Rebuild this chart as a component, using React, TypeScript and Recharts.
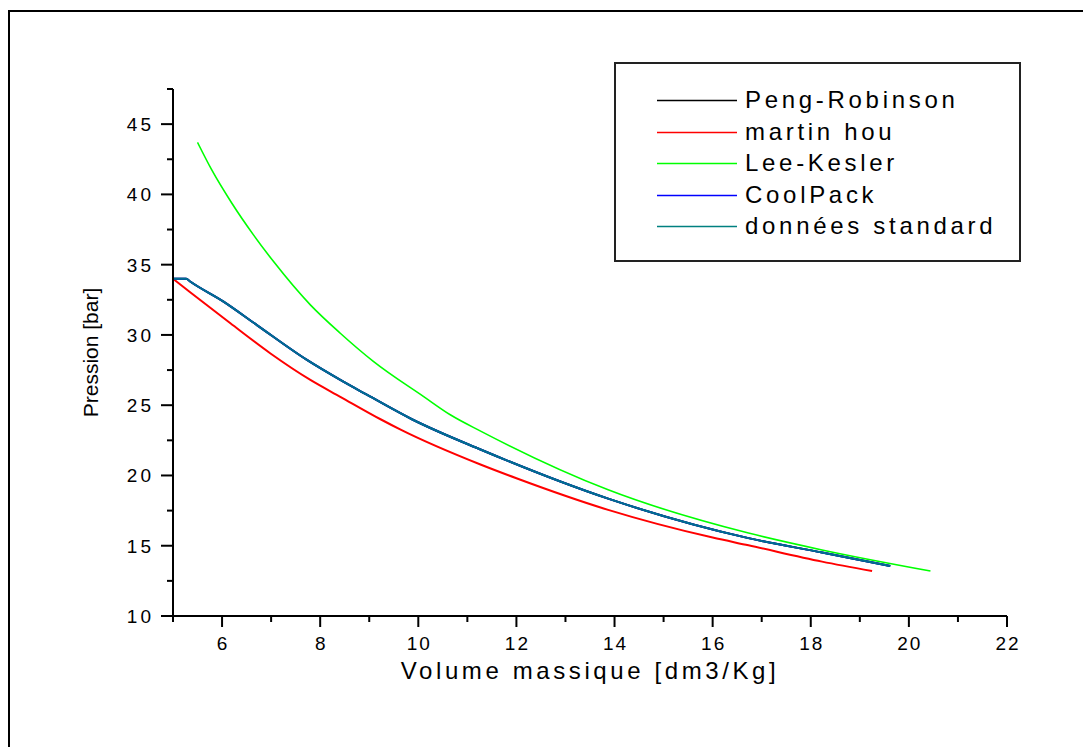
import * as React from 'react';
import { LineChart, Line, XAxis, YAxis, Legend } from 'recharts';

type Pt = { v: number; p: number };

// volume massique [dm3/Kg] / pression [bar]
const MARTIN_HOU_V = [5.0, 5.35, 6.17, 6.98, 7.8, 8.41, 9.23, 9.64, 11.28, 12.0, 13.87, 16.0, 16.73, 18.23, 19.25];
const MARTIN_HOU_P = [34.0, 33.04, 30.83, 28.7, 26.8, 25.6, 24.0, 23.26, 20.76, 19.8, 17.55, 15.58, 15.03, 13.87, 13.2];

const LEE_KESLER_V = [5.5, 5.79, 6.2, 6.64, 7.05, 7.8, 8.41, 9.09, 10.11, 10.66, 11.28, 13.87, 16.73, 18.23, 20.44];
const LEE_KESLER_P = [43.7, 41.74, 39.37, 37.12, 35.22, 32.14, 30.12, 28.1, 25.61, 24.3, 23.14, 18.98, 15.9, 14.7, 13.2];

// Peng-Robinson, CoolPack et données standard se superposent
const STANDARD_V = [5.0, 5.27, 5.35, 6.03, 6.71, 7.73, 8.41, 8.96, 9.87, 11.28, 13.87, 16.73, 18.23, 19.62];
const STANDARD_P = [34.0, 34.0, 33.8, 32.37, 30.7, 28.22, 26.8, 25.73, 24.0, 21.83, 18.35, 15.54, 14.52, 13.56];

const SERIES_NAMES = ['Peng-Robinson', 'martin hou', 'Lee-Kesler', 'CoolPack', 'données standard'];
const SERIES_COLORS = ['#000000', '#ff0000', '#00ff00', '#0000ff', '#008080'];

const X_TICKS = [5, 6, 7, 8, 9, 10, 11, 12, 13, 14, 15, 16, 17, 18, 19, 20, 21, 22];
const Y_TICKS = [10, 12.5, 15, 17.5, 20, 22.5, 25, 27.5, 30, 32.5, 35, 37.5, 40, 42.5, 45, 47.5];

const FONT = '"Liberation Sans", Arial, sans-serif';

const zip = (v: number[], p: number[]): Pt[] => v.map((x, i) => ({ v: x, p: p[i] }));

const martinHou = zip(MARTIN_HOU_V, MARTIN_HOU_P);
const leeKesler = zip(LEE_KESLER_V, LEE_KESLER_P);
const standard = zip(STANDARD_V, STANDARD_P);

function VolumeTick({ x, y, payload }: any) {
  const major = payload.value % 2 === 0;
  return (
    <g>
      <line x1={x} y1={y} x2={x} y2={y + (major ? 11 : 6)} stroke="#000" strokeWidth={2} />
      {major && (
        <text x={x + 1} y={y + 34} textAnchor="middle" fontSize={19} letterSpacing={2} fontFamily={FONT} fill="#000">
          {payload.value}
        </text>
      )}
    </g>
  );
}

function PressionTick({ x, y, payload }: any) {
  const major = payload.value % 5 === 0;
  return (
    <g>
      <line x1={x} y1={y} x2={x - (major ? 12 : 6)} y2={y} stroke="#000" strokeWidth={2} />
      {major && (
        <text x={x - 19} y={y + 7} textAnchor="end" fontSize={19} letterSpacing={3} fontFamily={FONT} fill="#000">
          {payload.value}
        </text>
      )}
    </g>
  );
}

function BoxLegend() {
  return (
    <div
      style={{
        position: 'relative',
        width: 407,
        height: 200,
        boxSizing: 'border-box',
        border: '2px solid #222',
        background: '#fff',
        fontFamily: FONT,
      }}
    >
      <svg width={130} height={200} style={{ position: 'absolute', left: -2, top: -2 }}>
        {SERIES_COLORS.map((c, i) => (
          <line key={c} x1={43} x2={123} y1={38.5 + Math.round(i * 31.5)} y2={38.5 + Math.round(i * 31.5)} stroke={c} strokeWidth={1.3} />
        ))}
      </svg>
      {SERIES_NAMES.map((name, i) => (
        <span
          key={name}
          style={{
            position: 'absolute',
            left: 129,
            top: 21 + Math.round(i * 31.5),
            lineHeight: '30px',
            fontSize: 24,
            letterSpacing: 3.7,
            color: '#000',
            whiteSpace: 'nowrap',
          }}
        >
          {name}
        </span>
      ))}
    </div>
  );
}

export default function App() {
  return (
    <div
      style={{
        position: 'relative',
        top: 2,
        width: 1081,
        height: 737,
        borderLeft: '2px solid #000',
        borderTop: '2px solid #000',
        background: '#fff',
      }}
    >
      <LineChart width={1081} height={737} margin={{ top: 77, right: 84, bottom: 0, left: 0 }}>
        <XAxis
          dataKey="v"
          type="number"
          domain={[5, 22]}
          ticks={X_TICKS}
          interval={0}
          height={133}
          tickSize={0}
          tickMargin={0}
          axisLine={{ stroke: '#000', strokeWidth: 2 }}
          tick={<VolumeTick />}
          label={{
            value: 'Volume massique [dm3/Kg]',
            position: 'insideTop',
            offset: 46,
            fontSize: 24,
            letterSpacing: 3.6,
            fontFamily: FONT,
            fill: '#000',
          }}
        />
        <YAxis
          type="number"
          domain={[10, 47.5]}
          ticks={Y_TICKS}
          interval={0}
          width={163}
          tickSize={0}
          tickMargin={0}
          axisLine={{ stroke: '#000', strokeWidth: 2 }}
          tick={<PressionTick />}
          label={{
            value: 'Pression [bar]',
            angle: -90,
            position: 'insideLeft',
            offset: 81,
            fontSize: 21,
            fontFamily: FONT,
            fill: '#000',
            style: { textAnchor: 'middle' },
          }}
        />
        <Legend
          layout="vertical"
          align="center"
          verticalAlign="middle"
          wrapperStyle={{ left: 604, top: 50, width: 407, height: 200 }}
          content={() => <BoxLegend />}
        />
        <Line data={standard} dataKey="p" name={SERIES_NAMES[0]} stroke={SERIES_COLORS[0]} strokeWidth={2} dot={false} type="monotone" isAnimationActive={false} />
        <Line data={martinHou} dataKey="p" name={SERIES_NAMES[1]} stroke={SERIES_COLORS[1]} strokeWidth={2} dot={false} type="monotone" isAnimationActive={false} />
        <Line data={leeKesler} dataKey="p" name={SERIES_NAMES[2]} stroke={SERIES_COLORS[2]} strokeWidth={1.6} dot={false} type="monotone" isAnimationActive={false} />
        <Line data={standard} dataKey="p" name={SERIES_NAMES[3]} stroke={SERIES_COLORS[3]} strokeWidth={2} dot={false} type="monotone" isAnimationActive={false} />
        <Line data={standard} dataKey="p" name={SERIES_NAMES[4]} stroke={SERIES_COLORS[4]} strokeOpacity={0.88} strokeWidth={2} dot={false} type="monotone" isAnimationActive={false} />
      </LineChart>
    </div>
  );
}
